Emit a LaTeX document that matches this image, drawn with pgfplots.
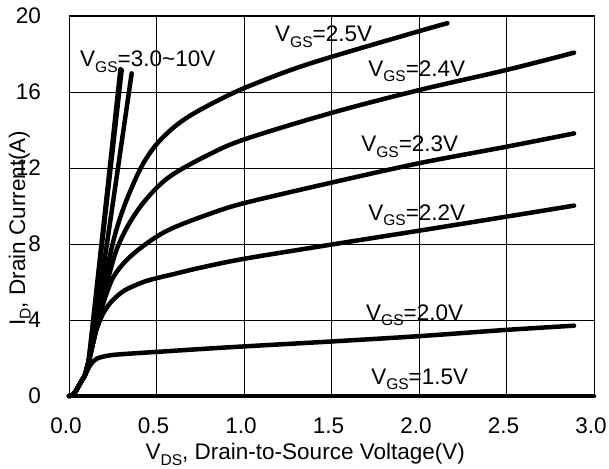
\documentclass[border=0pt]{standalone}
\usepackage{fontspec}
\setmainfont{Liberation Sans}
\usepackage{pgfplots}
\pgfplotsset{compat=1.18}

% subscript in the style of the datasheet labels
\newcommand{\lsub}[1]{\raisebox{-5.5bp}{\fontsize{15.6}{16}\selectfont #1}}
\newcommand{\vgs}[1]{V\lsub{GS}=#1}

\begin{document}
\begin{tikzpicture}
\useasboundingbox (-69bp,-73bp) rectangle (540bp,396bp);
\begin{axis}[
  at={(0,0)}, anchor=south west,
  scale only axis, width=525bp, height=380bp,
  xmin=0, xmax=3, ymin=0, ymax=20,
  xtick={0,0.5,1,1.5,2,2.5,3}, ytick={0,4,8,12,16,20},
  grid=major, major grid style={black, line width=0.8bp},
  axis line style={black, line width=1bp},
  major tick length=0pt,
  clip=false,
  font=\fontsize{22.6}{27}\selectfont,
  tick label style={font=\fontsize{22.6}{27}\selectfont},
  /pgf/number format/assume math mode=true,
  xticklabel style={/pgf/number format/fixed, /pgf/number format/fixed zerofill,
    /pgf/number format/precision=1,
    inner sep=0pt, anchor=north, yshift=-22bp, xshift=-3bp},
  yticklabel style={inner sep=0pt, anchor=east, xshift=-28bp},
  xlabel={V\lsub{DS}, Drain-to-Source Voltage(V)},
  ylabel={I\lsub{D}, Drain Current(A)},
  xlabel style={at={(axis description cs:0.45,-0.168)}, anchor=base, inner sep=0pt},
  ylabel style={at={(axis description cs:-0.0838,0.442)}, anchor=base, inner sep=0pt},
  curve/.style={black, line width=4.5bp, line cap=round, line join=round, smooth, tension=0.55},
]
% V_GS = 1.5 V
\addplot[curve, sharp plot] coordinates {(0,0) (3,0)};
% V_GS = 2.0 V
\addplot[curve] coordinates {
  (0,0) (0.02,0.05) (0.035,0.2) (0.053,0.49) (0.072,0.8) (0.091,1.08)
  (0.105,1.35) (0.12,1.6) (0.138,1.82) (0.158,1.96) (0.19,2.06) (0.234,2.14)
  (0.3,2.2) (0.5,2.32) (0.75,2.47) (1.0,2.61) (1.5,2.87) (2.0,3.15)
  (2.5,3.48) (2.886,3.70)};
% V_GS = 2.2 V
\addplot[curve] coordinates {
  (0,0) (0.02,0.05) (0.035,0.2) (0.053,0.49) (0.072,0.8) (0.091,1.1)
  (0.105,1.55) (0.12,2.1) (0.135,2.7) (0.15,3.3) (0.18,4.05) (0.2,4.42)
  (0.234,4.88) (0.28,5.3) (0.33,5.62) (0.425,6.0) (0.5,6.2) (0.6,6.42)
  (0.75,6.75) (1.0,7.22) (1.5,7.97) (2.0,8.7) (2.5,9.44) (2.886,10.02)};
% V_GS = 2.3 V
\addplot[curve] coordinates {
  (0,0) (0.02,0.05) (0.035,0.2) (0.053,0.49) (0.072,0.8) (0.091,1.1)
  (0.105,1.55) (0.12,2.1) (0.135,2.7) (0.15,3.3) (0.19,4.7) (0.235,5.9)
  (0.27,6.5) (0.33,7.16) (0.406,7.77) (0.5,8.38) (0.6,8.87) (0.787,9.53)
  (1.0,10.15) (1.5,11.23) (2.0,12.25) (2.5,13.12) (2.886,13.82)};
% V_GS = 2.4 V
\addplot[curve] coordinates {
  (0,0) (0.02,0.05) (0.035,0.2) (0.053,0.49) (0.072,0.8) (0.091,1.1)
  (0.105,1.55) (0.12,2.1) (0.135,2.7) (0.15,3.3) (0.19,4.85) (0.23,6.4)
  (0.272,7.7) (0.33,8.85) (0.406,9.95) (0.5,10.95) (0.6,11.7) (0.787,12.65)
  (1.0,13.5) (1.5,14.9) (2.0,16.1) (2.5,17.16) (2.886,18.07)};
% V_GS = 2.5 V
\addplot[curve] coordinates {
  (0,0) (0.02,0.05) (0.035,0.2) (0.053,0.49) (0.072,0.8) (0.091,1.1)
  (0.105,1.55) (0.12,2.1) (0.135,2.7) (0.15,3.3) (0.19,5.25) (0.225,7.0)
  (0.263,8.5) (0.31,9.85) (0.367,11.15) (0.425,12.25) (0.5,13.25) (0.6,14.15)
  (0.7,14.8) (0.85,15.55) (1.0,16.2) (1.25,17.1) (1.5,17.85) (2.0,19.2)
  (2.162,19.62)};
% V_GS = 3.0 ... 10 V
\addplot[curve] coordinates {
  (0,0) (0.02,0.05) (0.035,0.2) (0.053,0.49) (0.072,0.8) (0.091,1.1)
  (0.105,1.6) (0.12,2.4) (0.187,7.86) (0.301,17.16)};
\addplot[curve] coordinates {
  (0,0) (0.02,0.05) (0.035,0.2) (0.053,0.49) (0.072,0.8) (0.091,1.1)
  (0.105,1.6) (0.12,2.5) (0.185,7.95) (0.294,17.2)};
\addplot[curve] coordinates {
  (0,0) (0.02,0.05) (0.035,0.2) (0.053,0.49) (0.072,0.8) (0.091,1.1)
  (0.105,1.6) (0.125,2.35) (0.215,7.9) (0.358,16.98)};

\begin{scope}[every node/.style={anchor=base west, inner sep=0pt}]
\node at (axis cs:0.063,17.33) {\vgs{3.0\textasciitilde10V}};
\node at (axis cs:1.177,18.65) {\vgs{2.5V}};
\node at (axis cs:1.709,16.84) {\vgs{2.4V}};
\node at (axis cs:1.669,12.86) {\vgs{2.3V}};
\node at (axis cs:1.709,9.26) {\vgs{2.2V}};
\node at (axis cs:1.697,4.0) {\vgs{2.0V}};
\node at (axis cs:1.726,0.63) {\vgs{1.5V}};
\end{scope}
\end{axis}
\end{tikzpicture}
\end{document}
